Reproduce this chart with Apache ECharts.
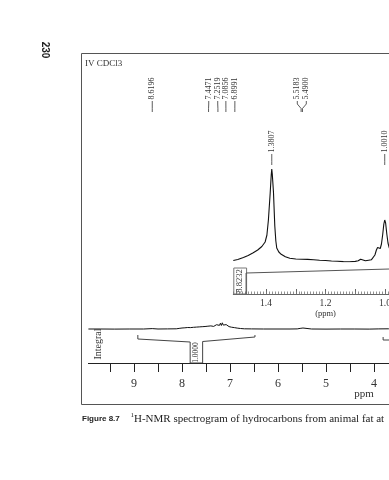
<!DOCTYPE html>
<html><head><meta charset="utf-8">
<script src="https://cdn.jsdelivr.net/npm/echarts@6/dist/echarts.min.js"></script>
<style>html,body{margin:0;padding:0;background:#fff;}#c{width:389px;height:480px;}</style>
</head><body><div id="c"></div>
<script>
// ---- data (ppm, intensity) ----
const mainSpectrum = [
[9.95,1.0],[9.7,1.0],[9.4,0.9],[9.1,1.0],[8.8,1.0],[8.62,1.4],[8.5,1.0],[8.3,1.1],[8.12,1.2],
[8.06,1.6],[8.03,1.3],[8.00,2.0],[7.97,1.5],[7.94,2.2],[7.91,1.7],[7.88,2.5],[7.85,2.0],[7.82,2.4],
[7.79,1.9],[7.76,2.7],[7.73,2.2],[7.70,2.9],[7.67,2.4],[7.64,3.1],[7.61,2.6],[7.58,3.3],[7.55,2.8],
[7.52,3.5],[7.49,3.0],[7.46,3.8],[7.44,4.6],[7.42,3.3],[7.40,4.1],[7.38,3.4],[7.36,4.4],[7.34,3.6],
[7.32,4.9],[7.30,3.8],[7.28,5.3],[7.26,4.2],[7.24,5.8],[7.22,4.6],[7.20,6.8],[7.18,4.5],[7.16,7.2],
[7.14,4.9],[7.12,6.0],[7.10,4.2],[7.08,5.4],[7.06,3.9],[7.04,4.6],[7.02,3.4],[7.00,3.9],[6.97,2.8],
[6.94,3.3],[6.91,2.4],[6.88,2.8],[6.85,1.9],[6.82,2.1],[6.78,1.5],[6.7,1.2],[6.55,1.1],[6.3,1.0],
[6.0,1.0],[5.75,1.0],[5.6,1.1],[5.54,1.6],[5.52,2.2],[5.50,1.4],[5.48,2.0],[5.45,1.1],[5.3,1.0],
[5.0,0.9],[4.7,1.0],[4.4,1.0],[4.1,0.9],[3.9,1.1],[3.7,1.2],[3.5,1.0]
];
const insetSpectrum = [
[1.51,1.5],[1.495,2.5],[1.476,4.5],[1.46,6.5],[1.443,9.3],[1.428,12],[1.414,15.5],[1.403,20],
[1.397,27],[1.392,42],[1.386,69],[1.3825,87],[1.3807,93],[1.379,88],[1.375,70],[1.3705,36],
[1.367,21],[1.364,14],[1.357,10],[1.349,7.7],[1.335,5.2],[1.320,3.8],[1.300,3.0],[1.280,2.8],
[1.260,2.6],[1.240,2.3],[1.220,1.8],[1.200,1.5],[1.180,1.0],[1.160,0.7],[1.140,0.4],[1.120,0.3],
[1.100,0.6],[1.090,1.2],[1.082,2.8],[1.076,1.4],[1.066,1.2],[1.055,1.8],[1.046,2.2],[1.040,3.5],
[1.034,7],[1.029,12],[1.025,14.5],[1.020,13],[1.016,13.5],[1.012,18],[1.008,27],[1.004,38],
[1.001,42],[0.998,39],[0.994,28],[0.990,19],[0.986,14.5],[0.980,10],[0.970,7],[0.960,6]
];
const mainIntegral1 = [[8.92,28],[8.92,24],[7.83,21],[7.83,0],[7.57,0],[7.57,21.5],[6.48,26],[6.48,28]];
const mainIntegral2 = [[3.81,26],[3.81,23],[3.3,23]];
const insetIntegral = [[1.467,0],[1.467,21],[0.5,29]];
const mainIntegralValue = '1.0000';
const insetIntegralValue = '8.8232';
const mainPeakLabels = [8.6196, 7.4471, 7.2519, 7.0856, 6.8991, 5.5183, 5.4900];
const insetPeakLabels = [1.3807, 1.0010];
const mainTickLabels = [9, 8, 7, 6, 5, 4];
const insetTickLabels = [1.4, 1.2, 1.0];

// ---- layout ----
const SERIF = '"Liberation Serif","DejaVu Serif",serif';
const SANS = '"Liberation Sans","DejaVu Sans",sans-serif';
const W = 389;
const MAIN_LEFT = 88.4, MAIN_MAX = 9.95, MAIN_PX = 48;        // px per ppm
const INSET_LEFT = 233.3, INSET_MAX = 1.51, INSET_PX = 297.5;
const MAIN_MIN = MAIN_MAX - (W - MAIN_LEFT) / MAIN_PX;
const INSET_MIN = INSET_MAX - (W - INSET_LEFT) / INSET_PX;
const mainTicks = []; for (let i = 1; i <= 19; i++) mainTicks.push(i * 0.5);
const insetMajor = []; for (let i = 10; i <= 15; i++) insetMajor.push(i / 10);
const insetMinor = []; for (let i = 99; i <= 151; i++) insetMinor.push(i / 100);

const chart = echarts.init(document.getElementById('c'), null, {renderer: 'canvas'});
const hidden = (g, min, max) => ({type: 'value', gridIndex: g, min, max, show: false});
const xMain = (g, extra) => Object.assign({type: 'value', gridIndex: g, min: MAIN_MIN, max: MAIN_MAX, inverse: true, splitLine: {show: false}}, extra);
const xInset = (g, extra) => Object.assign({type: 'value', gridIndex: g, min: INSET_MIN, max: INSET_MAX, inverse: true, splitLine: {show: false}}, extra);
const line = (data, xi, yi, color, w) => ({
  type: 'line', data, xAxisIndex: xi, yAxisIndex: yi, showSymbol: false, symbol: 'none',
  silent: true, animation: false, lineStyle: {color, width: w}, clip: true
});
const grid = (left, top, height) => ({left, right: 0, top, height, outerBoundsMode: 'none', containLabel: false});

chart.setOption({
  animation: false,
  backgroundColor: '#fff',
  grid: [
    grid(MAIN_LEFT, 60, 270),
    grid(MAIN_LEFT, 329, 34),
    grid(INSET_LEFT, 162, 100),
    grid(INSET_LEFT, 262, 32)
  ],
  xAxis: [
    xMain(0, {show: false}),
    xMain(1, {
      position: 'bottom',
      axisLine: {show: true, lineStyle: {color: '#222', width: 1}},
      axisTick: {show: true, length: 9, customValues: mainTicks, lineStyle: {color: '#222', width: 1}},
      axisLabel: {customValues: mainTickLabels, margin: 15, fontFamily: SERIF, fontSize: 12, color: '#333',
        formatter: v => String(v)}
    }),
    xInset(2, {show: false}),
    xInset(3, {
      position: 'bottom',
      axisLine: {show: true, lineStyle: {color: '#666', width: 1}},
      axisTick: {show: true, inside: true, length: 5, customValues: insetMajor, lineStyle: {color: '#666', width: 1}},
      axisLabel: {customValues: insetTickLabels, margin: 4, fontFamily: SERIF, fontSize: 9.5, color: '#333',
        formatter: v => v.toFixed(1)}
    }),
    xInset(3, {
      position: 'bottom',
      axisLine: {show: false},
      axisTick: {show: true, inside: true, length: 2.5, customValues: insetMinor, lineStyle: {color: '#777', width: 0.8}},
      axisLabel: {show: false}
    })
  ],
  yAxis: [hidden(0, 0, 270), hidden(1, 0, 34), hidden(2, 0, 100), hidden(3, 0, 32)],
  series: [
    line(mainSpectrum, 0, 0, '#111', 1),
    line(mainIntegral1, 1, 1, '#444', 1),
    line(mainIntegral2, 1, 1, '#444', 1),
    line(insetSpectrum, 2, 2, '#111', 1.1),
    line(insetIntegral, 3, 3, '#555', 1)
  ]
});

// ---- annotations placed through the axes ----
const px = (g, p, v) => chart.convertToPixel({gridIndex: g}, [p, v || 0]);
function spread(xs, gap) {
  let pos = xs.slice();
  for (let it = 0; it < 20; it++) {
    let clusters = [[0]];
    for (let i = 1; i < pos.length; i++) {
      if (pos[i] - pos[i - 1] < gap - 0.01) clusters[clusters.length - 1].push(i);
      else clusters.push([i]);
    }
    let changed = false;
    clusters.forEach(c => {
      if (c.length < 2) return;
      const mean = c.reduce((s, i) => s + xs[i], 0) / c.length;
      c.forEach((i, k) => {
        const np = mean + (k - (c.length - 1) / 2) * gap;
        if (Math.abs(np - pos[i]) > 0.01) changed = true;
        pos[i] = np;
      });
    });
    if (!changed) break;
  }
  return pos;
}
const gfx = [];
const txt = (x, y, text, font, rot, align, fill) => gfx.push({
  type: 'text', x, y, rotation: rot || 0, silent: true,
  style: {text, font, fill: fill || '#333', align: align || 'left', textAlign: align || 'left',
    verticalAlign: 'middle', textVerticalAlign: 'middle'}
});
const poly = (points, stroke, w) => gfx.push({
  type: 'polyline', silent: true, shape: {points}, style: {stroke: stroke || '#222', fill: 'none', lineWidth: w || 1}
});

function peakLabels(vals, g, yStart, yEnd) {
  const xs = vals.map(v => px(g, v)[0]);
  const tx = spread(xs, 9);
  vals.forEach((v, i) => {
    txt(tx[i], yStart, v.toFixed(4), '8px ' + SERIF, Math.PI / 2, 'left');
    poly([[tx[i], yStart + 1.5], [tx[i], yStart + 4.5], [xs[i], yStart + 9], [xs[i], yEnd]], '#333', 0.8);
  });
}
peakLabels(mainPeakLabels, 0, 99.5, 112);
peakLabels(insetPeakLabels, 2, 152.5, 165);

// integral values
const a = px(1, mainIntegral1[3][0], 0), b = px(1, mainIntegral1[4][0], 0);
txt((a[0] + b[0]) / 2, 352.5, mainIntegralValue, '7.5px ' + SERIF, Math.PI / 2, 'center');
const boxL = px(3, INSET_MAX, 26), boxR = px(3, insetIntegral[0][0], 0);
gfx.push({type: 'rect', silent: true, shape: {x: boxL[0] + 0.5, y: boxL[1], width: boxR[0] - boxL[0], height: boxR[1] - boxL[1]},
  style: {fill: 'none', stroke: '#777', lineWidth: 1}});
txt((boxL[0] + boxR[0]) / 2, (boxL[1] + boxR[1]) / 2, insetIntegralValue, '8.5px ' + SERIF, Math.PI / 2, 'center');

// frame, titles, captions
gfx.push({type: 'rect', silent: true, z: -1, shape: {x: 81.5, y: 53.5, width: 400, height: 351},
  style: {fill: 'none', stroke: '#555', lineWidth: 1}});
txt(45, 50, '230', 'bold 10px ' + SANS, -Math.PI / 2, 'center', '#222');
txt(85, 64, 'IV CDCl3', '9px ' + SERIF, 0, 'left');
txt(98, 344, 'Integral', '10px ' + SERIF, Math.PI / 2, 'center');
txt(px(3, 1.2)[0], 314, '(ppm)', '8.5px ' + SERIF, 0, 'center');
txt(364, 394, 'ppm', '11px ' + SERIF, 0, 'center');
txt(82, 419, 'Figure 8.7', 'bold 8px ' + SANS, 0, 'left', '#222');
txt(130.5, 415, '1', '7px ' + SERIF, 0, 'left', '#222');
txt(134, 419.5, 'H-NMR spectrogram of hydrocarbons from animal fat at', '11px ' + SERIF, 0, 'left', '#222');

chart.setOption({graphic: {elements: gfx}});
</script></body></html>
